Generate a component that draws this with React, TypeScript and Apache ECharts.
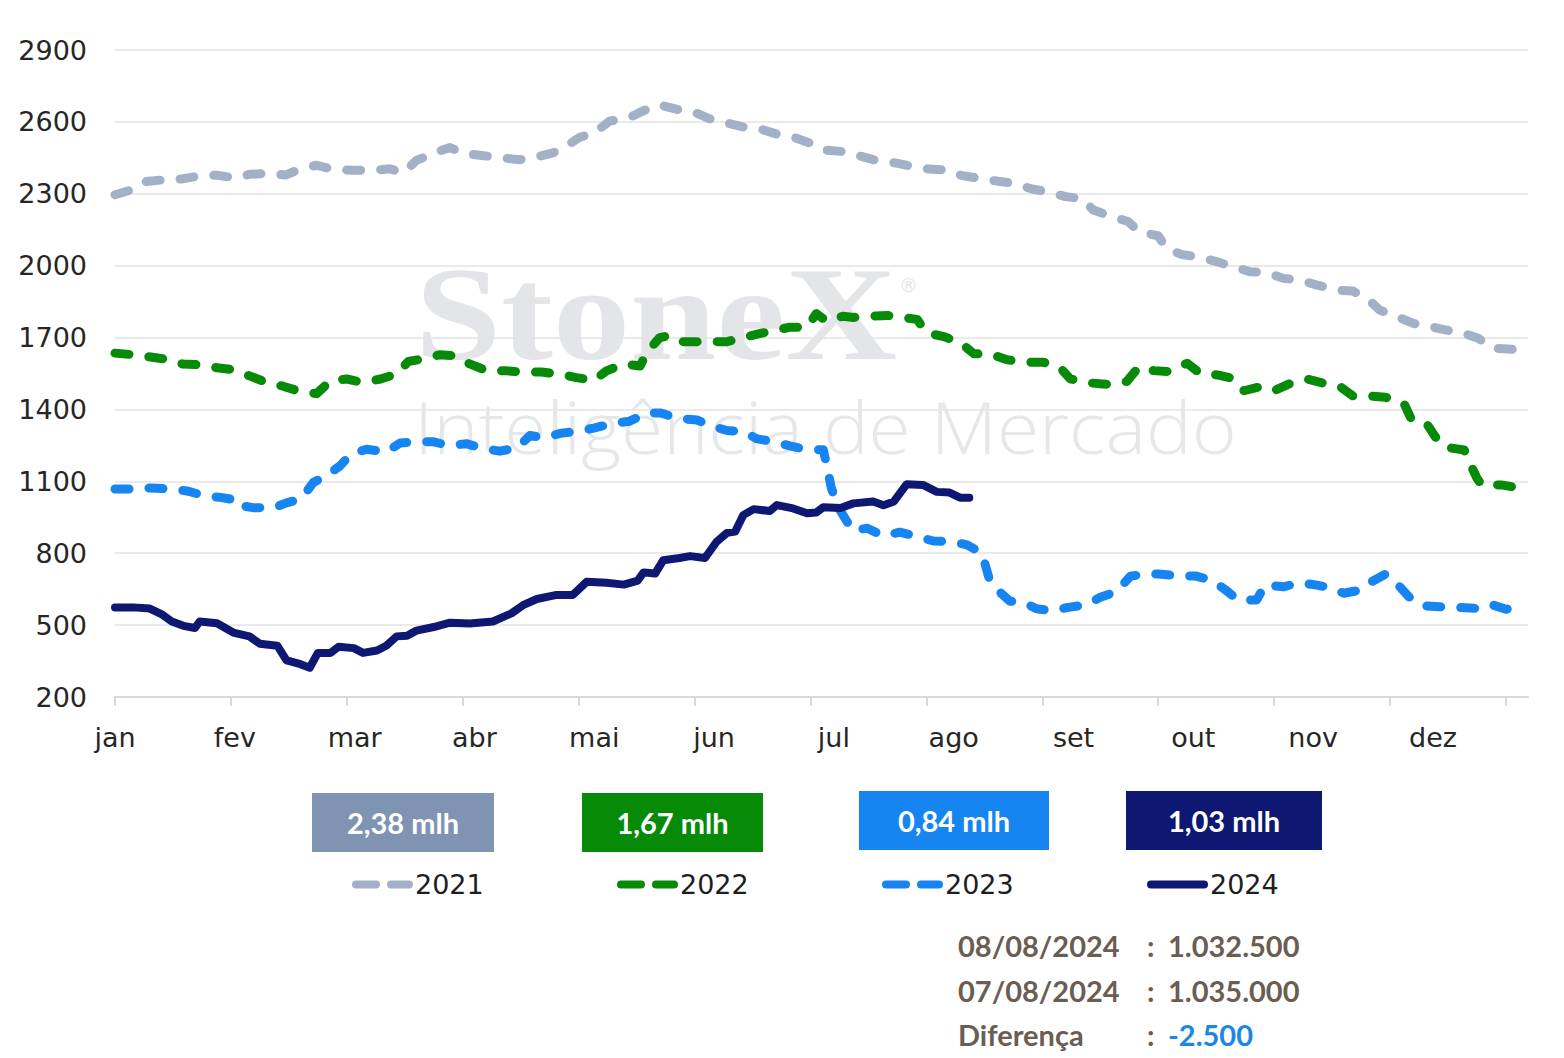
import React, { useEffect, useRef } from "react";
import * as echarts from "echarts";

const months = ["jan", "fev", "mar", "abr", "mai", "jun", "jul", "ago", "set", "out", "nov", "dez"];
const years = ["2021", "2022", "2023", "2024"];
const boxLabels = ["2,38 mlh", "1,67 mlh", "0,84 mlh", "1,03 mlh"];
const infoNames = ["08/08/2024", "07/08/2024", "Diferença"];
const infoValues = ["1.032.500", "1.035.000", "-2.500"];
const Y_BASE = 200;

// [month position (0 = jan), value]
const s2021: [number, number][] = [
  [0, 2296], [0.14, 2316], [0.27, 2351], [0.43, 2359], [0.58, 2362], [0.73, 2375], [0.88, 2378], [1.04, 2365],
  [1.16, 2381], [1.34, 2385], [1.47, 2378], [1.6, 2404], [1.74, 2419], [1.88, 2401], [2.06, 2398], [2.23, 2398],
  [2.37, 2404], [2.49, 2388], [2.6, 2439], [2.75, 2470], [2.89, 2493], [3.01, 2468], [3.18, 2459], [3.32, 2451],
  [3.49, 2442], [3.64, 2454], [3.78, 2471], [3.9, 2502], [4.01, 2536], [4.13, 2553], [4.27, 2604], [4.42, 2613],
  [4.56, 2647], [4.69, 2672], [4.85, 2652], [4.99, 2642], [5.13, 2613], [5.25, 2599], [5.42, 2579], [5.57, 2570],
  [5.71, 2549], [5.85, 2537], [6.0, 2511], [6.11, 2483], [6.26, 2477], [6.41, 2460], [6.56, 2440], [6.73, 2429],
  [6.86, 2416], [7.02, 2403], [7.16, 2400], [7.31, 2376], [7.46, 2364], [7.62, 2352], [7.75, 2344], [7.91, 2320],
  [8.04, 2309], [8.2, 2288], [8.34, 2280], [8.44, 2232], [8.58, 2208], [8.74, 2184], [8.84, 2140], [9.0, 2125],
  [9.07, 2072], [9.2, 2047], [9.36, 2035], [9.51, 2016], [9.65, 1996], [9.79, 1975], [9.94, 1971], [10.08, 1947],
  [10.22, 1940], [10.37, 1919], [10.54, 1898], [10.68, 1894], [10.81, 1860], [10.91, 1815], [11.06, 1787],
  [11.2, 1759], [11.35, 1745], [11.49, 1731], [11.63, 1718], [11.76, 1697], [11.89, 1655], [12.07, 1651],
];

const s2022: [number, number][] = [
  [0, 1635], [0.16, 1628], [0.29, 1620], [0.45, 1609], [0.58, 1590], [0.75, 1586], [0.88, 1574], [1.02, 1566],
  [1.16, 1540], [1.31, 1512], [1.45, 1497], [1.61, 1473], [1.74, 1466], [1.86, 1520], [2.0, 1527], [2.14, 1512],
  [2.29, 1527], [2.43, 1548], [2.53, 1600], [2.67, 1612], [2.8, 1628], [2.92, 1625], [3.06, 1590], [3.21, 1561],
  [3.38, 1561], [3.52, 1556], [3.68, 1556], [3.84, 1547], [3.98, 1533], [4.13, 1521], [4.24, 1561], [4.39, 1590],
  [4.53, 1581], [4.59, 1640], [4.7, 1700], [4.79, 1709], [4.9, 1683], [5.13, 1683], [5.28, 1683], [5.42, 1700],
  [5.54, 1714], [5.65, 1726], [5.82, 1743], [5.97, 1743], [6.05, 1800], [6.14, 1768], [6.28, 1789], [6.37, 1784],
  [6.51, 1789], [6.67, 1792], [6.79, 1784], [6.92, 1776], [7.0, 1720], [7.15, 1704], [7.29, 1680], [7.41, 1632],
  [7.55, 1632], [7.69, 1608], [7.84, 1597], [8.01, 1597], [8.15, 1576], [8.24, 1528], [8.38, 1512], [8.5, 1507],
  [8.6, 1504], [8.73, 1517], [8.83, 1576], [8.96, 1562], [9.1, 1558], [9.25, 1593], [9.36, 1551], [9.51, 1544],
  [9.64, 1530], [9.74, 1478], [9.88, 1495], [10.0, 1478], [10.14, 1509], [10.29, 1526], [10.43, 1509],
  [10.57, 1495], [10.68, 1456], [10.83, 1456], [10.96, 1451], [11.12, 1425], [11.18, 1363], [11.31, 1345],
  [11.39, 1286], [11.48, 1242], [11.64, 1231], [11.7, 1164], [11.75, 1113], [11.79, 1085], [11.96, 1085],
  [12.13, 1071],
];

const s2023: [number, number][] = [
  [0, 1068], [0.19, 1068], [0.3, 1072], [0.49, 1068], [0.62, 1060], [0.79, 1038], [0.91, 1033], [1.04, 1022],
  [1.05, 1002], [1.19, 990], [1.37, 990], [1.48, 1010], [1.61, 1028], [1.71, 1095], [1.83, 1126], [1.94, 1164],
  [2.03, 1211], [2.17, 1234], [2.34, 1223], [2.46, 1260], [2.6, 1265], [2.75, 1265], [2.88, 1249], [3.03, 1257],
  [3.18, 1237], [3.32, 1226], [3.47, 1240], [3.58, 1291], [3.71, 1282], [3.84, 1300], [3.97, 1308], [4.13, 1322],
  [4.3, 1342], [4.44, 1351], [4.59, 1385], [4.71, 1385], [4.85, 1363], [5.02, 1356], [5.16, 1329], [5.28, 1312],
  [5.42, 1308], [5.54, 1277], [5.69, 1265], [5.82, 1248], [5.97, 1232], [6.11, 1232], [6.14, 1168], [6.18, 1072],
  [6.24, 992], [6.3, 944], [6.36, 896], [6.49, 904], [6.63, 872], [6.77, 888], [6.9, 872], [7.06, 851],
  [7.22, 848], [7.35, 835], [7.48, 800], [7.54, 696], [7.61, 648], [7.72, 600], [7.84, 595], [7.95, 568],
  [8.1, 560], [8.21, 573], [8.37, 584], [8.5, 616], [8.64, 640], [8.76, 704], [8.87, 712], [9.0, 713],
  [9.19, 705], [9.32, 705], [9.46, 688], [9.58, 647], [9.69, 605], [9.85, 605], [9.92, 667], [10.08, 660],
  [10.22, 677], [10.37, 667], [10.5, 654], [10.6, 633], [10.74, 646], [10.84, 681], [10.96, 713], [11.07, 667],
  [11.16, 619], [11.29, 580], [11.43, 577], [11.57, 574], [11.73, 570], [11.86, 588], [12.0, 566], [12.15, 580],
];

const s2024: [number, number][] = [
  [0, 574], [0.16, 574], [0.3, 569], [0.4, 546], [0.49, 515], [0.59, 497], [0.69, 488], [0.73, 515],
  [0.88, 508], [1.02, 469], [1.16, 453], [1.25, 422], [1.4, 414], [1.48, 353], [1.6, 337], [1.68, 322],
  [1.75, 384], [1.86, 384], [1.93, 410], [2.06, 404], [2.14, 384], [2.26, 394], [2.34, 414], [2.43, 453],
  [2.52, 456], [2.6, 477], [2.75, 492], [2.89, 510], [3.06, 507], [3.26, 515], [3.42, 549], [3.52, 583],
  [3.64, 609], [3.81, 626], [3.95, 626], [4.07, 681], [4.24, 677], [4.39, 669], [4.51, 686], [4.56, 720],
  [4.66, 715], [4.73, 771], [4.87, 780], [4.96, 788], [5.09, 780], [5.19, 848], [5.28, 885], [5.35, 890],
  [5.42, 959], [5.51, 984], [5.65, 976], [5.71, 1001], [5.85, 987], [5.97, 967], [6.05, 970], [6.11, 992],
  [6.26, 989], [6.37, 1008], [6.54, 1016], [6.63, 1000], [6.72, 1016], [6.83, 1088], [6.97, 1085], [7.09, 1056],
  [7.2, 1053], [7.29, 1032], [7.37, 1032],
];

const seriesData = [s2021, s2022, s2023, s2024];
const seriesColors = ["#A3B1C8", "#078A07", "#1685F2", "#0E1873"];
const boxColors = ["#7F93B2", "#078A07", "#1685F2", "#0E1873"];

const LABEL_STEP = 119.8 / 115.9; // month labels are spaced slightly wider than ticks

const DASH_ICON = "path://M4,0H24A4,4,0,0,1,24,8H4A4,4,0,0,1,4,0ZM39,0H57A4,4,0,0,1,57,8H39A4,4,0,0,1,39,0Z";
const SOLID_ICON = "path://M4,0H57A4,4,0,0,1,57,8H4A4,4,0,0,1,4,0Z";

export default function App() {
  const ref = useRef<HTMLDivElement>(null);

  useEffect(() => {
    if (!ref.current) return;
    const chart = echarts.init(ref.current, null, { renderer: "svg" });

    const tickVals = months.map((_, i) => i).concat([12]);
    const labelVals = months.map((_, i) => i * LABEL_STEP);

    const series = seriesData.map((d, i) => ({
      name: years[i],
      type: "line",
      data: d.map(([m, v]) => [m, v - Y_BASE]),
      showSymbol: false,
      symbol: "none",
      lineStyle: {
        color: seriesColors[i],
        width: i === 3 ? 8 : 9,
        type: i === 3 ? "solid" : [14, 20],
        cap: "round",
        join: "round",
      },
      itemStyle: { color: seriesColors[i] },
      z: 3 + i,
    }));

    const legendLeft = [352, 617, 882, 1147];
    const legends = years.map((y, i) => ({
      data: [{ name: y, icon: i === 3 ? SOLID_ICON : DASH_ICON }],
      left: legendLeft[i],
      top: 871,
      padding: 0,
      itemWidth: 61,
      itemHeight: 8,
      itemGap: 0,
      itemStyle: { color: seriesColors[i], borderWidth: 0 },
      textStyle: { fontFamily: "DejaVu Sans", fontSize: 27, color: "#1e1e1e", padding: [0, 0, 0, -3] },
      selectedMode: false,
    }));

    const boxRects = [
      [312, 793, 182, 59],
      [582, 793, 181, 59],
      [859, 791, 190, 59],
      [1126, 791, 196, 59],
    ];

    const graphic: any[] = [
      {
        type: "text",
        x: 415,
        y: 247,
        scaleX: 1.165,
        z: 0,
        silent: true,
        style: {
          text: "StoneX",
          x: 0,
          y: 0,
          align: "left",
          verticalAlign: "top",
          font: 'bold 133px "Liberation Serif"',
          fill: "#E3E5E8",
        },
      },
      {
        type: "text",
        x: 899,
        y: 285,
        z: 0,
        silent: true,
        style: { text: "®", font: '19px "DejaVu Sans"', fill: "#E3E5E8", verticalAlign: "middle" },
      },
      {
        type: "text",
        x: 414,
        y: 390,
        scaleX: 1.066,
        z: 0,
        silent: true,
        style: {
          text: "Inteligência de Mercado",
          x: 0,
          y: 0,
          align: "left",
          verticalAlign: "top",
          font: '300 72px "Open Sans"',
          fill: "#E6E7E9",
        },
      },
    ];

    boxRects.forEach((r, i) => {
      graphic.push({
        type: "rect",
        shape: { x: r[0], y: r[1], width: r[2], height: r[3] },
        style: { fill: boxColors[i] },
        z: 10,
      });
      graphic.push({
        type: "text",
        x: r[0] + r[2] / 2,
        y: r[1] + r[3] / 2,
        z: 11,
        style: {
          text: boxLabels[i],
          fill: "#ffffff",
          font: 'bold 29px "Lato"',
          align: "center",
          verticalAlign: "middle",
        },
      });
    });

    const infoY = [945, 990, 1034];
    infoNames.forEach((n, i) => {
      graphic.push({
        type: "text",
        x: 958,
        y: infoY[i],
        style: { text: n, fill: "#6A5D53", font: 'bold 29px "Lato"', verticalAlign: "middle" },
      });
      graphic.push({
        type: "text",
        x: 1147,
        y: infoY[i],
        style: { text: ":", fill: "#6A5D53", font: 'bold 29px "Lato"', verticalAlign: "middle" },
      });
      graphic.push({
        type: "text",
        x: 1168,
        y: infoY[i],
        style: {
          text: infoValues[i],
          fill: i === 2 ? "#1A86EA" : "#6A5D53",
          font: 'bold 29px "Lato"',
          verticalAlign: "middle",
        },
      });
    });

    chart.setOption({
      animation: false,
      backgroundColor: "#ffffff",
      grid: { left: 115, right: 36, top: 50, bottom: 361, containLabel: false },
      xAxis: {
        type: "value",
        min: 0,
        max: 12.19,
        interval: 1,
        axisLine: { show: true, lineStyle: { color: "#D9D9D9", width: 2 } },
        axisTick: { show: true, length: 9, lineStyle: { color: "#D9D9D9", width: 2 }, customValues: tickVals },
        axisLabel: {
          customValues: labelVals,
          formatter: (v: number) => months[Math.round(v / LABEL_STEP)] ?? "",
          margin: 27,
          fontFamily: "DejaVu Sans",
          fontSize: 27,
          color: "#262626",
        },
        splitLine: { show: false },
      },
      yAxis: {
        type: "value",
        min: 0,
        max: 2700,
        interval: 300,
        axisLine: { show: false },
        axisTick: { show: false },
        axisLabel: {
          formatter: (v: number) => String(v + Y_BASE),
          margin: 28,
          fontFamily: "DejaVu Sans",
          fontSize: 27,
          color: "#262626",
        },
        splitLine: { lineStyle: { color: "#E3E3E3", width: 1.5 } },
      },
      legend: legends,
      graphic,
      series,
    });

    return () => chart.dispose();
  }, []);

  return <div ref={ref} style={{ position: "fixed", left: 0, top: 0, width: 1564, height: 1058 }} />;
}
